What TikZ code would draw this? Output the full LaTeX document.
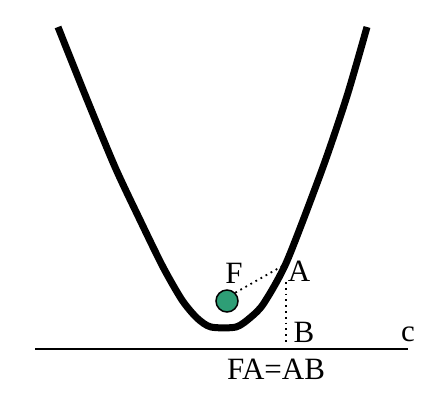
\documentclass[tikz,border=0pt]{standalone}
\usepackage{fontspec}
\setmainfont{Liberation Serif}
\definecolor{focusgreen}{RGB}{46,158,118}
\begin{document}
\begin{tikzpicture}[x=1pt,y=-1pt,
  curve/.style={line width=7pt,black},
  guide/.style={line width=1.8pt,black,dash pattern=on 1.8pt off 4pt},
  lbl/.style={font=\fontsize{31}{31}\selectfont,inner sep=0pt},
  focusdot/.style={circle,draw=black,line width=1.5pt,fill=focusgreen,minimum size=22pt,inner sep=0pt}]
\useasboundingbox (0,0) rectangle (444,400);
\draw[curve] plot[smooth,tension=0.45] coordinates {(58,27) (86,97) (115,167) (140,220) (163,267) (182,300) (197,318) (211,327) (236,327) (251,317) (264,303) (287,261) (323,167) (347,96) (367,27)};
\draw[line width=2pt] (35,349) -- (408,349);
\node[focusdot] (foc) at (227,301) {};
\coordinate (A) at (286,264);
\coordinate (B) at (286,345);
\draw[guide] (foc.north east) -- (A);
\draw[guide] (286,282) -- (B);
\node[lbl] (lF) at (234,273) {F};
\node[lbl] (lA) at (299,271) {A};
\node[lbl] (lB) at (304,332) {B};
\node[lbl] (lc) at (408,334) {c};
\node[lbl] (eq) at (276,369) {FA=AB};
\end{tikzpicture}
\end{document}
